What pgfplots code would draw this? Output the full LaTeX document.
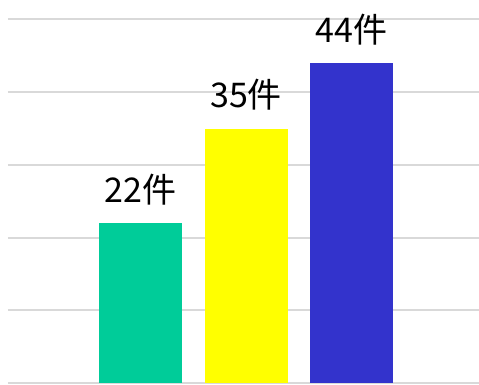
\documentclass[border=0pt]{standalone}
\usepackage{pgfplots}
\pgfplotsset{compat=1.18}
\usepackage{fontspec}
\setmainfont{Noto Sans CJK JP}
\definecolor{cgreen}{HTML}{00CC99}
\definecolor{cyellow}{HTML}{FFFF00}
\definecolor{cblue}{HTML}{3333CC}
\definecolor{cgrid}{HTML}{D9D9D9}
\begin{document}
\begin{tikzpicture}
\useasboundingbox (-8pt,0pt) rectangle (471pt,384pt);
\begin{axis}[
  at={(0pt,0pt)}, anchor=south west,
  scale only axis, width=471pt, height=384pt,
  xmin=-1.256, xmax=3.208,
  ymin=-0.137, ymax=52.68,
  axis line style={draw=none},
  ytick={0,10,20,30,40,50},
  ymajorgrids,
  grid style={cgrid, line width=2pt},
  xtick=\empty, yticklabels={},
  major tick length=0pt,
  /pgf/number format/assume math mode=true,
  ybar, bar width=83pt, bar shift=0pt,
  clip=false,
  nodes near coords={\pgfmathprintnumber{\pgfplotspointmeta}件},
  every node near coord/.style={anchor=base, yshift=21pt, font=\fontsize{34}{40}\selectfont, black},
]
\addplot[fill=cgreen, draw=none] coordinates {(0,22)};
\addplot[fill=cyellow, draw=none] coordinates {(1,35)};
\addplot[fill=cblue, draw=none] coordinates {(2,44)};
\end{axis}
\end{tikzpicture}
\end{document}
